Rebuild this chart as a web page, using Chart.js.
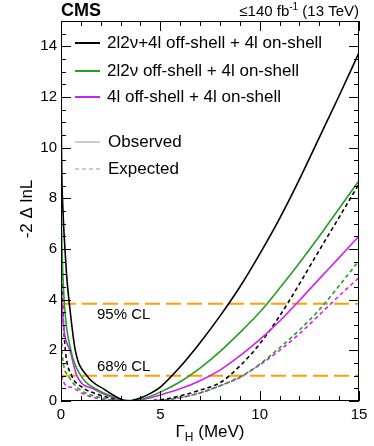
<!DOCTYPE html>
<html>
<head>
<meta charset="utf-8">
<script src="https://cdn.jsdelivr.net/npm/chart.js@4/dist/chart.umd.min.js"></script>
<style>
  html, body { margin: 0; padding: 0; background: #fff; }
  #c { display: block; }
</style>
</head>
<body>
<canvas id="c" width="374" height="446"></canvas>
<script>
"use strict";

// -2 Δ lnL vs Γ_H (MeV) as [Γ_H, -2ΔlnL] pairs
const obsComb = [[0, 12.5], [0.03, 9.5], [0.1, 7.5], [0.2, 6.0], [0.3, 4.8], [0.42, 3.84], [0.72, 2.0], [1.3, 1.0],
    [2.2, 0.45], [3.0, 0.08], [3.3, 0], [4.0, 0.12], [4.5, 0.3], [5.0, 0.55], [6.0, 1.35], [7.0, 2.3],
    [8.0, 3.35], [9.0, 4.5], [10.0, 5.8], [11.0, 7.2], [12.0, 8.75], [13.0, 10.4], [14.0, 12.05], [15.0, 13.75]];
const obs2l2v = [[0, 8.0], [0.05, 6.0], [0.17, 3.84], [0.5, 2.0], [1.0, 1.0], [1.9, 0.42], [2.9, 0.1], [3.4, 0],
    [4.0, 0.06], [5.0, 0.35], [6.0, 0.76], [7.0, 1.3], [8.0, 1.95], [9.0, 2.7], [10.0, 3.5],
    [11.0, 4.45], [12.0, 5.45], [13.0, 6.5], [14.0, 7.6], [15.0, 8.7]];
const obs4l = [[0, 5.5], [0.05, 3.84], [0.45, 2.0], [0.8, 1.0], [1.7, 0.45], [2.7, 0.12], [3.4, 0], [4.0, 0.04],
    [5.0, 0.24], [6.0, 0.48], [7.0, 0.8], [8.0, 1.22], [9.0, 1.78], [10.0, 2.42], [11.0, 3.15],
    [12.0, 3.97], [13.0, 4.82], [14.0, 5.66], [15.0, 6.51]];
const expComb = [[0, 6.0], [0.1, 3.5], [0.22, 2.0], [0.54, 1.0], [1.0, 0.58], [1.9, 0.25], [3.0, 0.05], [4.1, 0],
    [5.0, 0.05], [6.0, 0.2], [7.0, 0.43], [8.0, 0.72], [9.0, 1.38], [10.0, 2.25], [11.0, 3.35],
    [12.0, 4.62], [13.0, 5.95], [14.0, 7.25], [15.0, 8.57]];
const exp2l2v = [[0, 4.5], [0.03, 2.5], [0.1, 1.6], [0.37, 1.0], [0.87, 0.5], [1.7, 0.19], [3.0, 0.03], [4.1, 0],
    [5.0, 0.03], [6.0, 0.13], [7.0, 0.32], [8.0, 0.6], [9.0, 0.95], [10.0, 1.45], [11.0, 2.1], [12.0, 2.8],
    [13.0, 3.6], [14.0, 4.55], [15.0, 5.54]];
const exp4l = [[0, 3.5], [0.01, 2.0], [0.03, 1.0], [0.45, 0.55], [1.2, 0.25], [2.0, 0.08], [3.0, 0.02], [4.1, 0],
    [5.0, 0.03], [6.0, 0.13], [7.0, 0.32], [8.0, 0.6], [9.0, 0.93], [10.0, 1.42], [11.0, 2.0], [12.0, 2.65],
    [13.0, 3.4], [14.0, 4.15], [15.0, 4.87]];

const clLevels = [1.0, 3.84];
const clLabels = ["68% CL", "95% CL"];
const xTicks = [0, 5, 10, 15];
const yTicks = [0, 2, 4, 6, 8, 10, 12, 14];
const legendLabels = ["2l2\u03bd+4l off-shell + 4l on-shell", "2l2\u03bd off-shell + 4l on-shell", "4l off-shell + 4l on-shell"];
const styleLabels = ["Observed", "Expected"];

const FONT = '"Liberation Sans", Arial, Helvetica, sans-serif';
const COL = { comb: '#000000', l2v: '#22a022', l4: '#cc22ee', cl: '#ffa000', key: '#bbbbbb' };
const X_MIN = 0, X_MAX = 15, Y_MIN = 0, Y_MAX = 15;

function toPts(arr) { return arr.map(p => ({ x: p[0], y: p[1] })); }

function curve(data, color, dashed) {
    return {
        data: toPts(data), borderColor: color, borderWidth: 1.6, borderDash: dashed ? [4, 3] : [],
        showLine: true, pointRadius: 0, cubicInterpolationMode: 'monotone', fill: false, order: 1
    };
}

function clLine(level) {
    return {
        data: [{ x: X_MIN, y: level }, { x: X_MAX, y: level }], borderColor: COL.cl, borderWidth: 2,
        borderDash: [15, 6], showLine: true, pointRadius: 0, fill: false, order: 2
    };
}

// ROOT-like frame, inward ticks, legend and text
const rootStyle = {
    id: 'rootStyle',
    afterDraw(chart) {
        const { ctx, chartArea: a, scales } = chart;
        const xs = scales.x, ys = scales.y;
        ctx.save();
        ctx.strokeStyle = '#000';
        ctx.lineWidth = 1;
        ctx.setLineDash([]);
        ctx.strokeRect(a.left + 0.5, a.top + 0.5, a.width - 1, a.height - 1);

        ctx.beginPath();
        for (let v = X_MIN; v <= X_MAX + 1e-6; v += 1) {
            const px = Math.round(xs.getPixelForValue(v)) + 0.5;
            const len = (v % 5 === 0) ? 10 : 5;
            ctx.moveTo(px, a.bottom); ctx.lineTo(px, a.bottom - len);
            ctx.moveTo(px, a.top); ctx.lineTo(px, a.top + len);
        }
        for (let v = Y_MIN; v <= Y_MAX + 1e-6; v += 0.5) {
            const py = Math.round(ys.getPixelForValue(v)) + 0.5;
            const len = (Math.abs(v % 2) < 1e-6) ? 10 : 5;
            ctx.moveTo(a.left, py); ctx.lineTo(a.left + len, py);
            ctx.moveTo(a.right, py); ctx.lineTo(a.right - len, py);
        }
        ctx.stroke();

        // legend
        ctx.textBaseline = 'middle';
        ctx.textAlign = 'left';
        ctx.fillStyle = '#000';
        ctx.font = `17px ${FONT}`;
        const legCols = [COL.comb, COL.l2v, COL.l4];
        const legY = [43, 71, 97];
        legendLabels.forEach((lab, i) => {
            ctx.strokeStyle = legCols[i]; ctx.lineWidth = 2; ctx.setLineDash([]);
            ctx.beginPath(); ctx.moveTo(75, legY[i]); ctx.lineTo(100, legY[i]); ctx.stroke();
            ctx.fillText(lab, 107, legY[i]);
        });
        const keyY = [142, 169];
        styleLabels.forEach((lab, i) => {
            ctx.strokeStyle = COL.key; ctx.lineWidth = 1.5; ctx.setLineDash(i ? [4, 3] : []);
            ctx.beginPath(); ctx.moveTo(75, keyY[i]); ctx.lineTo(100, keyY[i]); ctx.stroke();
            ctx.fillText(lab, 108, keyY[i]);
        });
        ctx.setLineDash([]);

        // CL labels (95% below its line, 68% above its line)
        ctx.font = `15px ${FONT}`;
        ctx.fillText(clLabels[1], 97, ys.getPixelForValue(clLevels[1]) + 11);
        ctx.fillText(clLabels[0], 97, ys.getPixelForValue(clLevels[0]) - 9);

        // header
        ctx.textBaseline = 'alphabetic';
        ctx.font = `bold 18px ${FONT}`;
        ctx.fillText('CMS', 61, 16);
        ctx.font = `15px ${FONT}`;
        const tail = ' (13 TeV)';
        const wTail = ctx.measureText(tail).width;
        ctx.font = `10px ${FONT}`;
        const wSup = ctx.measureText('-1').width;
        ctx.font = `15px ${FONT}`;
        const head = '\u2264140 fb';
        const wHead = ctx.measureText(head).width;
        let x0 = a.right - wTail - wSup - wHead;
        ctx.fillText(head, x0, 16);
        ctx.font = `10px ${FONT}`;
        ctx.fillText('-1', x0 + wHead, 10);
        ctx.font = `15px ${FONT}`;
        ctx.fillText(tail, x0 + wHead + wSup, 16);

        // x title: Γ_H (MeV)
        ctx.font = `17px ${FONT}`;
        const wG = ctx.measureText('\u0393').width;
        const wRest = ctx.measureText(' (MeV)').width;
        ctx.font = `12px ${FONT}`;
        const wH = ctx.measureText('H').width;
        const cx = (a.left + a.right) / 2;
        let tx = cx - (wG + wH + wRest) / 2;
        ctx.font = `17px ${FONT}`;
        ctx.fillText('\u0393', tx, 437);
        ctx.font = `12px ${FONT}`;
        ctx.fillText('H', tx + wG, 441);
        ctx.font = `17px ${FONT}`;
        ctx.fillText(' (MeV)', tx + wG + wH, 437);

        // y title
        ctx.save();
        ctx.translate(27, 209);
        ctx.rotate(-Math.PI / 2);
        ctx.textAlign = 'center';
        ctx.textBaseline = 'middle';
        ctx.font = `17px ${FONT}`;
        ctx.fillText('-2 \u0394 lnL', 0, 0);
        ctx.restore();

        ctx.restore();
    }
};

const ctx = document.getElementById('c').getContext('2d');
new Chart(ctx, {
    type: 'scatter',
    data: {
        datasets: [
            curve(obsComb, COL.comb, false),
            curve(obs2l2v, COL.l2v, false),
            curve(obs4l, COL.l4, false),
            curve(expComb, COL.comb, true),
            curve(exp2l2v, COL.l2v, true),
            curve(exp4l, COL.l4, true),
            clLine(clLevels[0]),
            clLine(clLevels[1])
        ]
    },
    options: {
        responsive: false, animation: false, devicePixelRatio: 1,
        layout: { padding: { left: 0, top: 21, right: 15, bottom: 0 } },
        plugins: { legend: { display: false }, tooltip: { enabled: false } },
        scales: {
            x: {
                type: 'linear', min: X_MIN, max: X_MAX,
                grid: { display: false, drawTicks: false }, border: { display: false },
                afterBuildTicks: s => { s.ticks = xTicks.map(v => ({ value: v })); },
                afterFit: s => { s.height = 45; s.paddingLeft = 0; s.paddingRight = 0; },
                ticks: { font: { family: FONT, size: 15 }, color: '#000', padding: 5, maxRotation: 0, autoSkip: false }
            },
            y: {
                type: 'linear', min: Y_MIN, max: Y_MAX,
                grid: { display: false, drawTicks: false }, border: { display: false },
                afterBuildTicks: s => { s.ticks = yTicks.map(v => ({ value: v })); },
                afterFit: s => { s.width = 61; s.paddingTop = 0; s.paddingBottom = 0; },
                ticks: { font: { family: FONT, size: 15 }, color: '#000', padding: 4, autoSkip: false }
            }
        }
    },
    plugins: [rootStyle]
});
</script>
</body>
</html>
